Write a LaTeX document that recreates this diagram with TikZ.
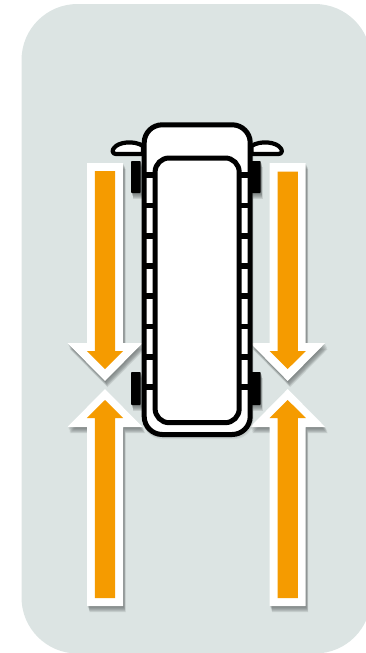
\documentclass[tikz,border=0pt]{standalone}
\definecolor{panelbg}{HTML}{DCE4E3}
\definecolor{arroworange}{HTML}{F59B00}
\definecolor{shadowgrey}{HTML}{5A6060}
\tikzset{
  softlayer/.style={fill=shadowgrey,fill opacity=0.17,draw=none},
  faintlayer/.style={fill=shadowgrey,fill opacity=0.10,draw=none},
  outerarrow/.style={fill=white,draw=none},
  innerarrow/.style={fill=arroworange,draw=none},
  vanline/.style={draw=black,line width=5pt,fill=white,line join=round},
  cargoline/.style={draw=black,line width=5pt,fill=white},
  mirrorline/.style={draw=black,line width=4.2pt,fill=white,line join=round},
  rungline/.style={draw=black,line width=5.5pt},
  tyre/.style={fill=black,draw=none,rounded corners=0.8pt}
}
% centre x, white tail, white head base, white tip, orange tail, orange head base, orange tip
\newcommand{\bigarrow}[7]{%
  \def\arrowoutline{(#1-18,#2) -- (#1+18,#2) -- (#1+18,#3) -- (#1+37.5,#3) -- (#1,#4) -- (#1-37.5,#3) -- (#1-18,#3) -- cycle}%
  \foreach \sx/\sy in {0.5/1,1/2,1.5/3,2/4,2/5,2.5/6}{
    \path[softlayer,shift={(\sx,\sy)}] \arrowoutline;
  }
  \path[outerarrow] \arrowoutline;
  \path[innerarrow] (#1-10.2,#5) -- (#1+10.2,#5) -- (#1+10.2,#6) -- (#1+18.2,#6) -- (#1,#7) -- (#1-18.2,#6) -- (#1-10.2,#6) -- cycle;
}
\newcommand{\rungs}[2]{%
  \foreach \ry in {175,205.5,236,266,296,326.5,357,387}{
    \draw[rungline] (#1,\ry) -- (#2,\ry);
  }
}
\begin{document}
\begin{tikzpicture}[x=1pt,y=-1pt]
\useasboundingbox (0,0) rectangle (366,653);
\begin{scope}
  \clip (0,0) rectangle (366,653);
  \fill[panelbg,rounded corners=56pt] (21.5,4) rectangle (371,653.5);
\end{scope}

\bigarrow{105}{163}{343}{381}{171}{351}{369}
\bigarrow{105}{606}{427}{389}{598}{418}{400}
\bigarrow{287.7}{163}{343}{381}{171.5}{351}{369}
\bigarrow{287.7}{606}{427}{389}{598}{418}{400}

% tyre shadows
\foreach \sx/\sy in {0.5/1,1/2,1/3,1.5/4,1.5/5,2/6}{
  \begin{scope}[shift={(\sx,\sy)}]
    \path[softlayer] (131,161) rectangle (140.5,193);
    \path[softlayer] (251,161) rectangle (260.7,193);
    \path[softlayer] (131,372) rectangle (140.5,405);
    \path[softlayer] (251,372) rectangle (260.7,405);
  \end{scope}
}
% van shadow
\foreach \sx/\sy in {0.5/1,1/2}{
  \path[faintlayer,rounded corners=19pt,shift={(\sx,\sy)}] (142,122.5) rectangle (252.5,437);
}

% tyres
\path[tyre] (131,161) rectangle (140.7,193);
\path[tyre] (251.5,161) rectangle (260.7,193);
\path[tyre] (131,372) rectangle (140.7,405);
\path[tyre] (251.5,372) rectangle (260.7,405);

% mirrors
\draw[mirrorline] (143,154) -- (116,154) .. controls (112,154) and (112,150) .. (114,148) .. controls (118,142) and (134,140) .. (143,146) -- cycle;
\draw[mirrorline] (251.5,154) -- (278.5,154) .. controls (282.5,154) and (282.5,150) .. (280.5,148) .. controls (276.5,142) and (260.5,140) .. (251.5,146) -- cycle;

% body
\draw[vanline,rounded corners=18pt] (144.2,124.8) rectangle (250.2,434.5);
% ladder rungs
\rungs{146}{155}
\rungs{239}{249}
% cargo
\draw[cargoline,rounded corners=14pt] (155.1,158) rectangle (239.2,422.7);
\end{tikzpicture}
\end{document}
